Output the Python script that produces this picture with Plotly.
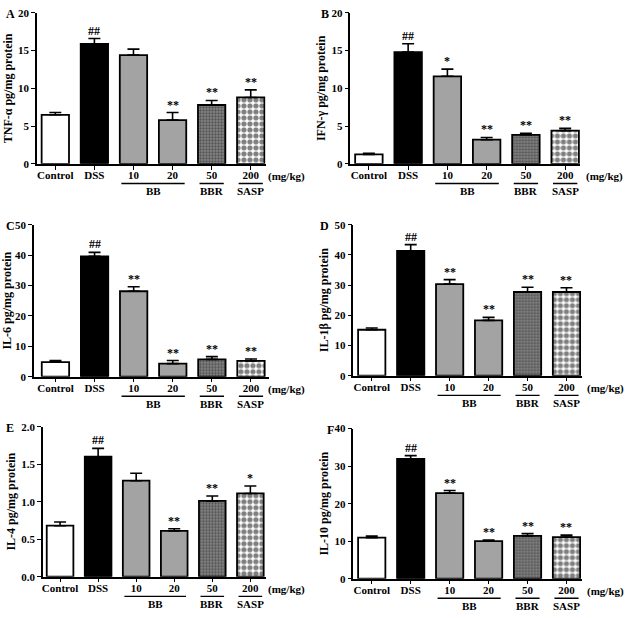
import plotly.graph_objects as go

W, H = 627, 618

# ---------------- data ----------------
groups = ["Control", "DSS", "10", "20", "50", "200"]

tnf = [6.5, 15.9, 14.4, 5.8, 7.8, 8.8]
tnf_err = [0.3, 0.7, 0.8, 1.0, 0.6, 1.0]
tnf_sig = ["", "##", "", "**", "**", "**"]

ifn = [1.25, 14.8, 11.6, 3.2, 3.85, 4.4]
ifn_err = [0.15, 1.1, 0.95, 0.3, 0.2, 0.3]
ifn_sig = ["", "##", "*", "**", "**", "**"]

il6 = [4.8, 39.6, 28.1, 4.3, 5.7, 5.2]
il6_err = [0.5, 1.3, 1.5, 1.0, 0.9, 0.6]
il6_sig = ["", "##", "**", "**", "**", "**"]

il1b = [15.2, 41.3, 30.3, 18.3, 27.7, 27.7]
il1b_err = [0.6, 2.1, 1.5, 1.0, 1.6, 1.4]
il1b_sig = ["", "##", "**", "**", "**", "**"]

il4 = [0.68, 1.60, 1.28, 0.61, 1.01, 1.11]
il4_err = [0.05, 0.11, 0.10, 0.03, 0.065, 0.10]
il4_sig = ["", "##", "", "**", "**", "*"]

il10 = [10.95, 31.9, 22.8, 10.0, 11.4, 11.1]
il10_err = [0.4, 0.9, 0.7, 0.3, 0.6, 0.5]
il10_sig = ["", "##", "**", "**", "**", "**"]

titles = ["TNF-α pg/mg protein", "IFN-γ pg/mg protein", "IL-6 pg/mg protein",
          "IL-1β pg/mg protein", "IL-4 pg/mg protein", "IL-10 pg/mg protein"]
letters = ["A", "B", "C", "D", "E", "F"]
drug_groups = [("BB", 2, 3), ("BBR", 4, 4), ("SASP", 5, 5)]
unit_label = "(mg/kg)"

# ---------------- styling ----------------
FONT = "Liberation Serif"
# bar styles per category: fill, pattern shape, fg, bg, size, solidity
styles = [
    dict(color="white", shape="", fg="black", bg="white", size=6, sol=0.3),
    dict(color="black", shape="", fg="black", bg="black", size=6, sol=0.3),
    dict(color="#a3a3a3", shape="", fg="black", bg="#a3a3a3", size=6, sol=0.3),
    dict(color="#a3a3a3", shape="", fg="black", bg="#a3a3a3", size=6, sol=0.3),
    dict(color="#8c8c8c", shape=".", fg="#1a1a1a", bg="#8c8c8c", size=3, sol=0.5),
    dict(color="white", shape=".", fg="black", bg="white", size=6, sol=0.6),
]

# panel layout in pixels: (x0, x1, ytop, ybottom), x range, y max, dtick, fmt, letter pos, unit pos
panels = [
    dict(px=(36, 265, 7, 161), xr=(-0.47, 5.38), ymax=20, dt=5, fmt="d", let=(10, 8), unit=286),
    dict(px=(350, 580, 7, 161), xr=(-0.47, 5.38), ymax=20, dt=5, fmt="d", let=(325, 8), unit=604),
    dict(px=(33, 268, 223, 378), xr=(-0.55, 5.45), ymax=50, dt=10, fmt="d", let=(10, 224), unit=286),
    dict(px=(353, 582, 223, 377), xr=(-0.47, 5.40), ymax=50, dt=10, fmt="d", let=(324, 224), unit=605),
    dict(px=(42, 265, 429, 582), xr=(-0.45, 5.40), ymax=2.0, dt=0.5, fmt=".1f", let=(9, 430), unit=286),
    dict(px=(353, 582, 431, 584), xr=(-0.47, 5.40), ymax=40, dt=10, fmt="d", let=(330, 432), unit=605),
]

series = [(tnf, tnf_err, tnf_sig), (ifn, ifn_err, ifn_sig), (il6, il6_err, il6_sig),
          (il1b, il1b_err, il1b_sig), (il4, il4_err, il4_sig), (il10, il10_err, il10_sig)]


def fx(p):
    return p / W


def fy(p):
    return 1 - p / H


fig = go.Figure()
annotations = []
shapes = []
layout_axes = {}
tfont = dict(family=FONT, size=11, color="black", weight="bold")
ttfont = dict(family=FONT, size=12, color="black", weight="bold")

for i, (pan, (vals, errs, sigs)) in enumerate(zip(panels, series)):
    n = i + 1
    xa = "x" if n == 1 else f"x{n}"
    ya = "y" if n == 1 else f"y{n}"
    x0, x1, yt, yb = pan["px"]
    for j, st in enumerate(styles):
        fig.add_trace(go.Bar(
            x=[groups[j]], y=[vals[j]], xaxis=xa, yaxis=ya, width=0.7,
            marker=dict(
                color=st["color"],
                line=dict(color="black", width=1.8),
                pattern=dict(shape=st["shape"], fgcolor=st["fg"], bgcolor=st["bg"],
                             size=st["size"], solidity=st["sol"]),
            ),
            error_y=dict(type="data", symmetric=False, array=[errs[j]],
                         arrayminus=[0], color="black", thickness=1.6, width=6),
            showlegend=False, hoverinfo="skip",
        ))
    xkey = "xaxis" if n == 1 else f"xaxis{n}"
    ykey = "yaxis" if n == 1 else f"yaxis{n}"
    layout_axes[xkey] = dict(
        domain=[fx(x0), fx(x1)], anchor=ya, type="category",
        categoryorder="array", categoryarray=groups, range=list(pan["xr"]),
        showline=True, linecolor="black", linewidth=1.6, ticks="outside",
        ticklen=4, tickwidth=1.4, tickcolor="black", tickfont=tfont,
        ticklabelstandoff=-4,
        showgrid=False, zeroline=False, fixedrange=True,
    )
    layout_axes[ykey] = dict(
        domain=[fy(yb), fy(yt)], anchor=xa, range=[0, pan["ymax"]],
        dtick=pan["dt"], tick0=0, tickformat=pan["fmt"],
        showline=True, linecolor="black", linewidth=1.6, ticks="outside",
        ticklen=4, tickwidth=1.4, tickcolor="black", tickfont=tfont,
        title=dict(text=titles[i], standoff=3, font=ttfont),
        showgrid=False, zeroline=False, fixedrange=True,
    )
    # significance marks (x given as category index)
    for j, (v, e, s) in enumerate(zip(vals, errs, sigs)):
        if s:
            annotations.append(dict(
                x=j, y=v + e, xref=xa, yref=ya, text=f"<b>{s}</b>",
                showarrow=False, yanchor="bottom", yshift=-1,
                font=dict(family=FONT, size=12, color="black")))
    # unit label
    annotations.append(dict(
        x=fx(pan["unit"]), xref="paper", xanchor="center",
        y=fy(yb + 13), yref="paper", yanchor="middle", text=f"<b>{unit_label}</b>",
        showarrow=False, font=dict(family=FONT, size=11, color="black")))
    # group labels with lines
    for name, a, b in drug_groups:
        shapes.append(dict(
            type="line", xref=xa, yref="paper",
            x0=a - 0.31, x1=b + 0.31, y0=fy(yb + 20), y1=fy(yb + 20),
            line=dict(color="black", width=1.3)))
        annotations.append(dict(
            x=(a + b) / 2, xref=xa, y=fy(yb + 27.5), yref="paper",
            yanchor="middle", text=f"<b>{name}</b>", showarrow=False,
            font=dict(family=FONT, size=11, color="black")))
    # panel letter
    lx, ly = pan["let"]
    annotations.append(dict(
        x=fx(lx), y=fy(ly), xref="paper", yref="paper", xanchor="center",
        yanchor="middle", text=f"<b>{letters[i]}</b>", showarrow=False,
        font=dict(family=FONT, size=12, color="black")))

fig.update_layout(
    width=W, height=H, margin=dict(l=0, r=0, t=0, b=0),
    paper_bgcolor="white", plot_bgcolor="white",
    barmode="overlay", annotations=annotations, shapes=shapes,
    **layout_axes,
)

fig.write_html(
    "out.html",
    config={"displayModeBar": False},
    post_script="document.body.style.margin='0';document.body.style.overflow='hidden';",
)
